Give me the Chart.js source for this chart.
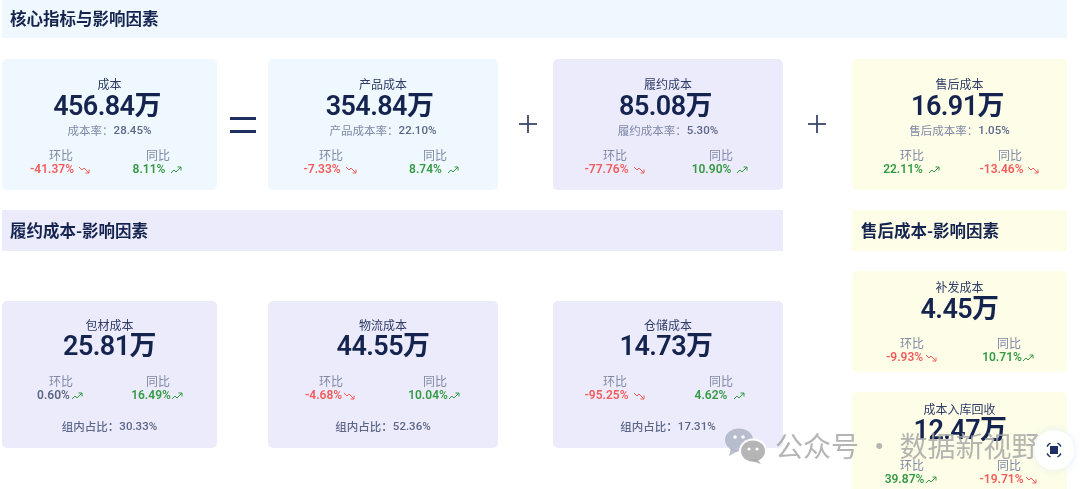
<!DOCTYPE html>
<html><head><meta charset="utf-8">
<style>html,body{margin:0;padding:0;background:#fff;overflow:hidden}canvas{display:block}</style>
<script src="https://cdn.jsdelivr.net/npm/chart.js@4"></script></head>
<body><canvas id="c" width="1080" height="489"></canvas>
<script>
// ---- values ----
const sectionTitles = ["核心指标与影响因素","履约成本-影响因素","售后成本-影响因素"];
const cardNames = ["成本","产品成本","履约成本","售后成本","包材成本","物流成本","仓储成本","补发成本","成本入库回收"];
const cardValues = ["456.84万","354.84万","85.08万","16.91万","25.81万","44.55万","14.73万","4.45万","12.47万"];
const noteLabels = ["成本率：","产品成本率：","履约成本率：","售后成本率：","组内占比：","组内占比：","组内占比：",null,null];
const noteValues = ["28.45%","22.10%","5.30%","1.05%","30.33%","52.36%","17.31%",null,null];
const momValues = [-41.37,-7.33,-77.76,22.11,0.60,-4.68,-95.25,-9.93,39.87];
const yoyValues = [8.11,8.74,10.90,-13.46,16.49,10.04,4.62,10.71,-19.71];
const momLabel = "环比", yoyLabel = "同比";
const watermark = "公众号 · 数据新视野";

// ---- layout (page pixels on the 0-1080 / 0-489 scales) ----
const BLUE="#eff8fe",PURPLE="#ecebfb",YELLOW="#fefee8";
const sectionBoxes=[[2,0,1067,38,BLUE,10,19],[2,210,783,251,PURPLE,10,231],[852,210,1067,251,YELLOW,861,231]];
// x0,x1,y0,y1,fill,  yTitle,yValue,yNote,yLabel,yStat,  momX,yoyX, momValueX,momArrowX,yoyValueX,yoyArrowX, valueShiftX
const cards=[
 [2,217,59,190,BLUE,   84,108,130.5,155,170, 61,158, 52,79, 149,171, -2.5],
 [268,498,59,190,BLUE, 84,108,130.5,155,170, 331,435, 322,346, 425.5,448, -3.5],
 [553,783,59,190,PURPLE,84,108,130.5,155,170, 615,721, 606.5,634, 711.5,737, -2.5],
 [852,1067,59,190,YELLOW,84,108,130.5,155,170, 912,1010, 903,929, 1001.5,1028, -2],
 [2,217,301,448,PURPLE,325,348,427,381,396, 61,158, 53.5,72, 151,172, 0],
 [268,498,301,448,PURPLE,325,348,427,381,396, 331,435, 323.5,344, 428,449, 0],
 [553,783,301,448,PURPLE,325,348,427,381,396, 615,721, 606.5,634, 711,734, -2],
 [852,1067,271,372,YELLOW,287,311,null,343,358, 912,1009, 904.5,926, 1002,1023, 0],
 [852,1067,392,499,YELLOW,409,432,null,465,480, 912,1009, 904.5,926, 1001.5,1026, 0.5]
];
const CJK='"Noto Sans CJK SC"';
const NAVY="#14244f",TITLE="#2d3b66",GRAY="#7f88a6",SLATE="#5c6789",RED="#f25c5c",GREEN="#359a45";
const fmt=v=>v.toFixed(2)+"%";

const dashboard={id:"dashboard",beforeDatasetsDraw(chart){
  const {ctx,scales:{x,y}}=chart;
  const rect=(x0,y0,x1,y1,fill,r)=>{ctx.fillStyle=fill;ctx.beginPath();ctx.roundRect(x.getPixelForValue(x0),y.getPixelForValue(y0),x1-x0,y1-y0,r);ctx.fill();};
  const text=(s,px,py,font,color,align="center",sp="0px")=>{ctx.font=font;ctx.letterSpacing=sp;ctx.fillStyle=color;ctx.textAlign=align;ctx.textBaseline="middle";ctx.fillText(s,x.getPixelForValue(px),y.getPixelForValue(py));ctx.letterSpacing="0px";};
  const poly=(pts,color,w)=>{ctx.strokeStyle=color;ctx.lineWidth=w;ctx.lineCap="butt";ctx.lineJoin="miter";ctx.beginPath();pts.forEach((p,i)=>{const X=x.getPixelForValue(p[0]),Y=y.getPixelForValue(p[1]);i?ctx.lineTo(X,Y):ctx.moveTo(X,Y);});ctx.stroke();};
  const arrow=(px,py,up,color)=>{
    if(up){poly([[px,py+3],[px+3,py],[px+5,py+2],[px+10,py-3]],color,1);poly([[px+6.5,py-3],[px+10,py-3],[px+10,py+0.5]],color,1);}
    else{poly([[px,py-3],[px+3,py],[px+5,py-2],[px+10,py+3]],color,1);poly([[px+6.5,py+3],[px+10,py+3],[px+10,py-0.5]],color,1);}
  };
  sectionBoxes.forEach((b,i)=>{rect(b[0],b[1],b[2],b[3],b[4],0);text(sectionTitles[i],b[5],b[6],`700 16.5px ${CJK}`,NAVY,"left");});
  cards.forEach((c,i)=>{
    const [x0,x1,y0,y1,fill,yT,yV,yN,yL,yS,mX,yX,mvX,maX,yvX,yaX,vs]=c, cx=(x0+x1)/2;
    rect(x0,y0,x1,y1,fill,5);
    text(cardNames[i],cx,yT,`400 12px ${CJK}`,TITLE);
    text(cardValues[i],cx+vs,yV,`600 27px Roboto, ${CJK}`,NAVY,"center","-0.6px");
    if(noteLabels[i]){
      const footer=i>=4;
      const lf=`${footer?500:400} 11.5px ${CJK}`, vf=`500 11.5px Roboto, ${CJK}`;
      ctx.font=lf;const lw=ctx.measureText(noteLabels[i]).width;
      ctx.font=vf;const vw=ctx.measureText(noteValues[i]).width;
      const sx=cx-(lw+vw)/2;
      text(noteLabels[i],sx,yN,lf,footer?SLATE:GRAY,"left");
      text(noteValues[i],sx+lw,yN+0.5,vf,SLATE,"left");
    }
    text(momLabel,mX,yL,`400 12px ${CJK}`,GRAY);
    text(yoyLabel,yX,yL,`400 12px ${CJK}`,GRAY);
    [[momValues[i],mvX,maX],[yoyValues[i],yvX,yaX]].forEach(([v,tx,ax],k)=>{
      const neutral=i===4&&k===0;
      const col=neutral?SLATE:(v<0?RED:GREEN);
      text(fmt(v),tx,yS,`600 12px Roboto`,col);
      arrow(ax,yS,v>=0,v<0?RED:GREEN);
    });
  });
  // operators
  ctx.fillStyle="#1f2f5f";
  ctx.fillRect(x.getPixelForValue(230),y.getPixelForValue(117),26,3);
  ctx.fillRect(x.getPixelForValue(230),y.getPixelForValue(130),26,3);
  [528,817].forEach(px=>{poly([[px-9,124],[px+9,124]],"#39466b",1.8);poly([[px,115],[px,133]],"#39466b",1.8);});
}};
const overlay={id:"overlay",afterDraw(chart){
  const {ctx,scales:{x,y}}=chart;
  const X=v=>x.getPixelForValue(v),Y=v=>y.getPixelForValue(v);
  ctx.save();
  // watermark icon
  ctx.globalAlpha=.78;
  ctx.fillStyle="#a9afc2";
  ctx.beginPath();ctx.ellipse(X(739),Y(440),14,11.5,0,0,7);ctx.fill();
  ctx.beginPath();ctx.moveTo(X(731),Y(448));ctx.lineTo(X(729),Y(456));ctx.lineTo(X(738),Y(451));ctx.fill();
  ctx.fillStyle="#fff";ctx.globalAlpha=1;
  ctx.beginPath();ctx.ellipse(X(753),Y(451),14,12.5,0,0,7);ctx.fill();
  ctx.globalAlpha=.85;ctx.fillStyle="#a8a8a8";
  ctx.beginPath();ctx.ellipse(X(753),Y(451),12,10.5,0,0,7);ctx.fill();
  ctx.beginPath();ctx.moveTo(X(757),Y(459));ctx.lineTo(X(761),Y(464));ctx.lineTo(X(749),Y(460));ctx.fill();
  ctx.globalAlpha=1;ctx.fillStyle="#fff";
  [[735,437],[743,437]].forEach(p=>{ctx.beginPath();ctx.arc(X(p[0]),Y(p[1]),1.8,0,7);ctx.fill();});
  [[749,449],[757,449]].forEach(p=>{ctx.beginPath();ctx.arc(X(p[0]),Y(p[1]),1.6,0,7);ctx.fill();});
  // watermark text
  ctx.globalAlpha=.82;ctx.fillStyle="#a3a3a3";ctx.font=`400 28px ${CJK}`;ctx.textAlign="left";ctx.textBaseline="middle";
  ctx.fillText(watermark,X(775),Y(446));
  // floating button
  ctx.globalAlpha=1;
  ctx.shadowColor="rgba(190,215,235,.45)";ctx.shadowBlur=10;
  ctx.fillStyle="rgba(255,255,255,.96)";ctx.beginPath();ctx.arc(X(1054),Y(450),20,0,7);ctx.fill();
  ctx.shadowBlur=0;ctx.shadowColor="transparent";
  ctx.fillStyle="#1d2f66";ctx.fillRect(X(1050),Y(446),8,8);
  ctx.strokeStyle="#1d2f66";ctx.lineWidth=1.4;
  [[-1,-1],[1,-1],[-1,1],[1,1]].forEach(([a,b])=>{ctx.beginPath();ctx.moveTo(X(1054+a*7),Y(450+b*3.5));ctx.lineTo(X(1054+a*5.5),Y(450+b*5.5));ctx.lineTo(X(1054+a*3.5),Y(450+b*7));ctx.stroke();});
  ctx.restore();
}};
new Chart(document.getElementById("c"),{
  type:"scatter",
  data:{datasets:[]},
  options:{responsive:false,animation:false,devicePixelRatio:1,layout:{padding:0},
    plugins:{legend:{display:false},tooltip:{enabled:false},title:{display:false}},
    scales:{x:{type:"linear",min:0,max:1080,display:false},y:{type:"linear",min:0,max:489,reverse:true,display:false}}},
  plugins:[dashboard,overlay]
});
</script></body></html>
